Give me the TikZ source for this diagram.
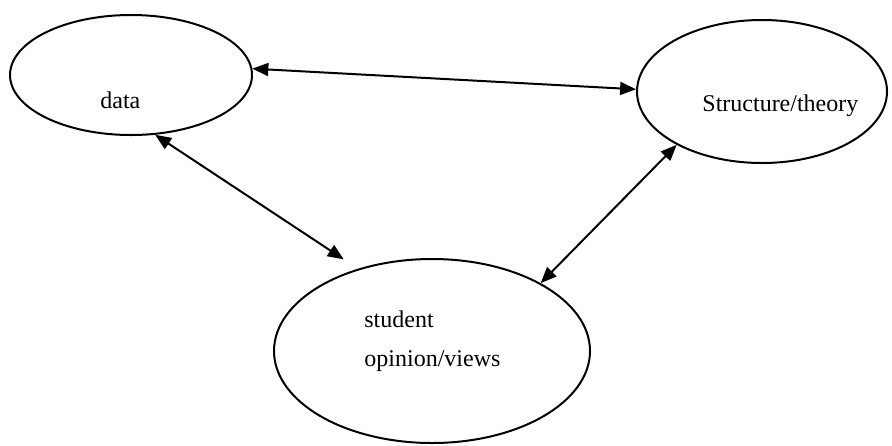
\documentclass[tikz,border=0pt]{standalone}
\usepackage{fontspec}
\setmainfont{Liberation Serif}
\usetikzlibrary{shapes.geometric,arrows.meta}
\begin{document}
\begin{tikzpicture}[x=0.5pt,y=-0.5pt,
  bubble/.style={draw, ellipse, line width=1pt, inner sep=0pt},
  lbl/.style={anchor=base west, inner sep=0pt, font=\fontsize{12}{14}\selectfont},
  link/.style={line width=1pt, {Triangle[length=8pt,width=6.5pt]}-{Triangle[length=8pt,width=6.5pt]}}]
\useasboundingbox (0,0) rectangle (892,445);
\node[bubble, minimum width=121pt, minimum height=60pt] (data) at (131,75) {};
\node[bubble, minimum width=125pt, minimum height=71.5pt] (theory) at (762,91.5) {};
\node[bubble, minimum width=158pt, minimum height=92pt] (student) at (432,351) {};
\node[lbl] (tdata) at (100,108) {data};
\node[lbl] (ttheory) at (702,111) {Structure/theory};
\node[lbl] (tstudent) at (364,327) {student};
\node[lbl] (topinion) at (364,366) {opinion/views};
\draw[link] (data.3.75) -- (theory.179);
\draw[link, shorten >=8.5pt] (data.-68) -- (student.132);
\draw[link] (theory.212) -- (student.32);
\end{tikzpicture}
\end{document}
